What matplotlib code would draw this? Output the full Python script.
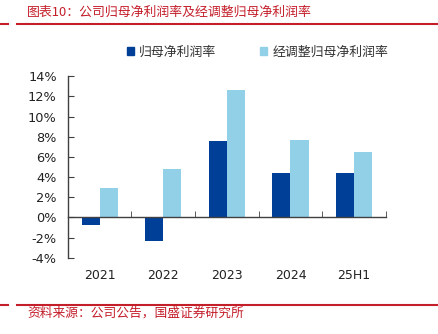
import matplotlib
matplotlib.use("Agg")
import matplotlib.pyplot as plt
from matplotlib.patches import Patch
from matplotlib.lines import Line2D
from matplotlib.ticker import FuncFormatter, FixedLocator

plt.rcParams['font.family'] = ['Noto Sans CJK SC', 'DejaVu Sans']

years = ['2021', '2022', '2023', '2024', '25H1']
net_margin = [-0.7, -2.3, 7.6, 4.4, 4.4]        # 归母净利润率 (%)
adj_net_margin = [2.9, 4.8, 12.6, 7.7, 6.5]     # 经调整归母净利润率 (%)
y_ticks = [-4, -2, 0, 2, 4, 6, 8, 10, 12, 14]

DARK = '#003F98'
LIGHT = '#92D0E8'
RED = '#C41E2A'
AXIS = '#404040'

fig = plt.figure(figsize=(4.38, 3.34), dpi=100)
ax = fig.add_axes([0.155, 0.228, 0.726, 0.544])

w = 0.285
x = range(len(years))
ax.bar([i - w / 2 for i in x], net_margin, width=w, color=DARK, zorder=2)
ax.bar([i + w / 2 for i in x], adj_net_margin, width=w, color=LIGHT, zorder=2)

ax.set_xlim(-0.5, len(years) - 0.5)
ax.set_ylim(-4, 14)
ax.set_yticks(y_ticks)
ax.yaxis.set_major_formatter(FuncFormatter(lambda v, _: f'{v:.0f}%'))

for side in ('top', 'right'):
    ax.spines[side].set_visible(False)
ax.spines['bottom'].set_position(('data', 0))
ax.spines['bottom'].set_color(AXIS)
ax.spines['left'].set_color(AXIS)
ax.spines['bottom'].set_linewidth(1.0)
ax.spines['left'].set_linewidth(1.0)
ax.spines['bottom'].set_zorder(3)

# category labels sit below the plot, boundary ticks sit on the zero line
ax.set_xticks(list(x))
ax.set_xticklabels(years, family='DejaVu Sans')
ax.xaxis.set_minor_locator(FixedLocator([i + 0.5 for i in x]))
ax.tick_params(axis='x', which='major', length=0, pad=37, labelsize=9, labelcolor='#222222')
ax.tick_params(axis='x', which='minor', direction='in', length=4, color=AXIS)
ax.tick_params(axis='y', direction='in', length=4, color=AXIS, pad=8,
               labelsize=9.3, labelcolor='#222222')
for lab in ax.get_yticklabels():
    lab.set_family('DejaVu Sans')

handles = [Patch(color=DARK), Patch(color=LIGHT)]
fig.legend(handles, ['归母净利润率', '经调整归母净利润率'], loc='center',
           bbox_to_anchor=(0.588, 0.844), ncol=2, frameon=False,
           fontsize=9.3, handlelength=0.55, handleheight=0.55,
           handletextpad=0.4, columnspacing=3.4, labelcolor='#333333')

# header and footer
fig.text(0.062, 0.964, '图表10：公司归母净利润率及经调整归母净利润率',
         color=RED, fontsize=9.3, va='center', ha='left')
fig.text(0.062, 0.063, '资料来源：公司公告，国盛证券研究所',
         color=RED, fontsize=9.2, va='center', ha='left')
for yl in (1 - 24 / 334, 1 - 305 / 334):
    fig.add_artist(Line2D([0, 8 / 438], [yl, yl], color=RED, lw=1.5,
                          transform=fig.transFigure))
    fig.add_artist(Line2D([17 / 438, 1], [yl, yl], color=RED, lw=1.5,
                          transform=fig.transFigure))

fig.savefig('out.png', dpi=100)
